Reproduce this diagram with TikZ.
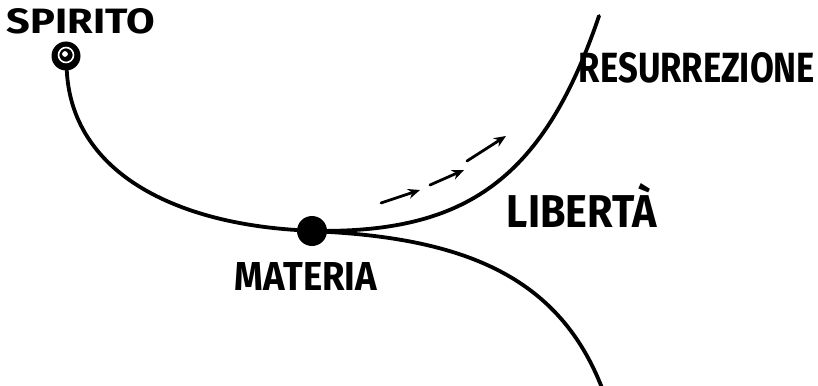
\documentclass[tikz,border=0pt]{standalone}
\usepackage{fontspec}
\setmainfont{Fira Sans}
\usepackage{graphicx}
\usetikzlibrary{arrows.meta}

% word box of given width and height (pt)
\newcommand{\sizedword}[3]{\resizebox{#1pt}{#2pt}{#3}}

\begin{document}
\begin{tikzpicture}[x=1pt,y=-1pt,
  pen/.style={line width=3.8pt,line cap=round},
  push/.style={-{Stealth[length=12pt,width=10pt]},line width=2.8pt,line cap=round},
  blob/.style={circle,fill=black,inner sep=0pt,minimum size=30pt},
  gap/.style={circle,draw=white,line width=1.6pt,inner sep=0pt},
  word/.style={inner sep=0pt,font=\bfseries}]
 \useasboundingbox (0,0) rectangle (818,385);
 % points
 \node[blob,minimum size=29pt] (spi) at (66,56) {};
 \node[gap,minimum size=15pt] (ring) at (66,55) {};
 \node[gap,fill=white,minimum size=4pt] (core) at (65,54) {};
 \node[blob] (mat) at (312,231) {};
 \coordinate (top) at (599,16);
 \coordinate (bot) at (602,388);
 % labels
 \node[word] (lspi) at (81,21) {\sizedword{148}{25}{SPIRITO}};
 \node[word] (lmat) at (306,276) {\sizedword{142}{28}{MATERIA}};
 \node[word] (lres) at (697,68) {\sizedword{236}{30}{RESURREZIONE}};
 \node[word] (llib) at (582,205) {\sizedword{150}{44}{LIBERTÀ}};
 % roads
 \draw[pen] (spi) .. controls (72,170) and (170,222) .. (mat);
 \draw[pen] (mat) .. controls (470,230) and (545,175) .. (top);
 \draw[pen] (mat) .. controls (470,240) and (560,280) .. (bot);
 % arrows
 \foreach \i/\a/\b in {1/{381,203}/{420,190},2/{430,185}/{464,170},3/{467,161}/{506,136}} {
   \coordinate (s\i) at (\a);
   \coordinate (e\i) at (\b);
   \draw[push] (s\i) -- (e\i);
 }
\end{tikzpicture}
\end{document}
